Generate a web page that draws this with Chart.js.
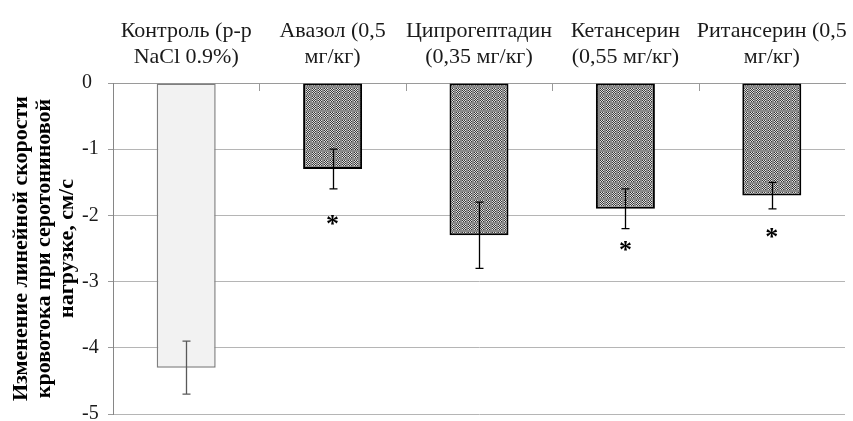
<!DOCTYPE html>
<html>
<head>
<meta charset="utf-8">
<script src="https://cdn.jsdelivr.net/npm/chart.js@4.4.1/dist/chart.umd.min.js"></script>
<style>
  html, body { margin: 0; padding: 0; background: #ffffff; }
  #wrap { width: 853px; height: 421px; }
</style>
</head>
<body>
<div id="wrap"><canvas id="c" width="853" height="421"></canvas></div>
<script>
// Groups (two-line labels on the top axis)
const categories = [
  ['Контроль (р-р', 'NaCl 0.9%)'],
  ['Авазол (0,5', 'мг/кг)'],
  ['Ципрогептадин', '(0,35 мг/кг)'],
  ['Кетансерин', '(0,55 мг/кг)'],
  ['Ритансерин (0,5', 'мг/кг)']
];
// Mean change of linear blood flow velocity, cm/s
const meanValues = [-4.3, -1.3, -2.3, -1.9, -1.7];
// Error bar half-lengths
const errorValues = [0.4, 0.3, 0.5, 0.3, 0.2];
// Significance markers (value where the asterisk sits, null = none)
const markerValues = [null, -2.1, null, -2.5, -2.3];
// Y axis ticks
const yTicks = [0, -1, -2, -3, -4, -5];
const yTitle = ['Изменение линейной скорости', 'кровотока при серотониновой', 'нагрузке, см/с'];

const canvas = document.getElementById('c');
const ctx = canvas.getContext('2d');

// Fine dotted fill for the treatment bars
function makeDotPattern() {
  const t = document.createElement('canvas');
  t.width = 6; t.height = 8;
  const g = t.getContext('2d');
  g.fillStyle = '#8a8a8a';
  g.fillRect(0, 0, 6, 8);
  for (let y = 0; y < 6; y++) {
    for (let x = 0; x < 4; x++) {
      g.fillStyle = ((x + y) % 2 === 0) ? '#3a3a3a' : '#dedede';
      g.fillRect(x, y, 1, 1);
    }
  }
  return ctx.createPattern(t, 'repeat');
}
const dots = makeDotPattern();

const fills = meanValues.map((v, i) => i === 0 ? '#f2f2f2' : dots);
const borders = meanValues.map((v, i) => i === 0 ? '#7f7f7f' : '#000000');
const borderWidths = meanValues.map((v, i) => i === 0 ? 1.5 : 2);
const errColors = meanValues.map((v, i) => i === 0 ? '#595959' : '#000000');

const serif = '"Liberation Serif", "Times New Roman", serif';

// Y tick labels, error bars, significance asterisks and inward ticks on the top axis
const overlay = {
  id: 'overlay',
  afterDraw(chart) {
    const c = chart.ctx;
    const ys = chart.scales.y;
    c.save();
    c.fillStyle = '#1a1a1a';
    c.font = '20px ' + serif;
    c.textAlign = 'left';
    c.textBaseline = 'middle';
    yTicks.forEach(v => c.fillText(String(v), 82, ys.getPixelForValue(v)));
    c.restore();
  },
  afterDatasetsDraw(chart) {
    const c = chart.ctx;
    const xs = chart.scales.x;
    const ys = chart.scales.y;
    const meta = chart.getDatasetMeta(0);
    c.save();
    // category boundary ticks
    c.strokeStyle = '#9a9a9a';
    c.lineWidth = 1;
    const top = chart.chartArea.top;
    for (let i = 1; i < categories.length; i++) {
      const x = Math.round((xs.getPixelForValue(i - 1) + xs.getPixelForValue(i)) / 2) + 0.5;
      c.beginPath();
      c.moveTo(x, top);
      c.lineTo(x, top + 8);
      c.stroke();
    }
    // error bars
    meta.data.forEach((bar, i) => {
      const x = Math.round(bar.x) + 0.5;
      const yHi = ys.getPixelForValue(meanValues[i] + errorValues[i]);
      const yLo = ys.getPixelForValue(meanValues[i] - errorValues[i]);
      c.strokeStyle = errColors[i];
      c.lineWidth = 1.3;
      c.beginPath();
      c.moveTo(x, yHi); c.lineTo(x, yLo);
      c.moveTo(x - 4, yHi); c.lineTo(x + 4, yHi);
      c.moveTo(x - 4, yLo); c.lineTo(x + 4, yLo);
      c.stroke();
    });
    // asterisks
    c.fillStyle = '#000000';
    c.font = 'bold 26px ' + serif;
    c.textAlign = 'center';
    c.textBaseline = 'middle';
    meta.data.forEach((bar, i) => {
      if (markerValues[i] === null) return;
      c.fillText('*', bar.x, ys.getPixelForValue(markerValues[i]) + 3);
    });
    c.restore();
  }
};

new Chart(ctx, {
  type: 'bar',
  data: {
    labels: categories,
    datasets: [{
      data: meanValues,
      backgroundColor: fills,
      borderColor: borders,
      borderWidth: borderWidths,
      borderSkipped: false,
      barPercentage: 0.403,
      categoryPercentage: 1
    }]
  },
  options: {
    responsive: false,
    animation: false,
    devicePixelRatio: 1,
    layout: { padding: { left: 0, right: 8, top: 0, bottom: 7 } },
    plugins: { legend: { display: false }, tooltip: { enabled: false } },
    scales: {
      x: {
        position: 'top',
        afterFit(s) { s.height = 83; s.paddingLeft = 0; s.paddingRight = 0; },
        grid: { display: false, drawTicks: false },
        border: { display: true, color: '#9a9a9a' },
        ticks: {
          color: '#1a1a1a',
          font: { family: serif, size: 22, lineHeight: 1.22 },
          padding: 12,
          maxRotation: 0,
          autoSkip: false
        }
      },
      y: {
        min: -5,
        max: 0,
        afterFit(s) { s.width = 113; s.paddingTop = 0; s.paddingBottom = 0; },
        afterBuildTicks(s) { s.ticks = yTicks.map(v => ({ value: v })); },
        grid: { color: '#b5b5b5', tickLength: 5, tickColor: '#9a9a9a' },
        border: { display: true, color: '#868686' },
        ticks: { display: false },
        title: {
          display: true,
          text: yTitle,
          color: '#000000',
          font: { family: serif, size: 22, weight: 'bold', lineHeight: 1.05 },
          padding: { top: 10, bottom: 0 }
        }
      }
    }
  },
  plugins: [overlay]
});
</script>
</body>
</html>
